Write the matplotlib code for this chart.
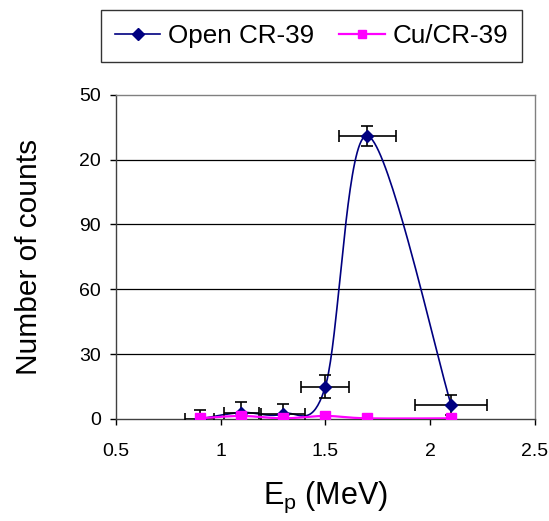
import numpy as np
import matplotlib
matplotlib.use("Agg")
import matplotlib.pyplot as plt

plt.rcParams['font.family'] = ['Liberation Sans', 'DejaVu Sans']

# proton energy (MeV) and counts
energy = [0.9, 1.1, 1.3, 1.5, 1.7, 2.1]
open_counts = [0.0, 3.0, 2.4, 15.0, 131.0, 6.5]
open_xerr = [0.07, 0.085, 0.105, 0.115, 0.135, 0.17]
open_yerr = [4.0, 4.7, 4.6, 5.2, 4.6, 4.6]
cu_counts = [0.3, 1.4, 0.3, 1.4, 0.3, 0.3]

yticks = [0, 30, 60, 90, 120, 150]
ytick_labels = ['0', '30', '60', '90', '20', '50']   # leading "1" is cut off in the original
xticks = [0.5, 1, 1.5, 2, 2.5]
xtick_labels = ['0.5', '1', '1.5', '2', '2.5']


def smooth(x, y, n=40):
    # excel-style smoothed line: bezier segments with catmull-rom control points
    p = np.column_stack([x, y]).astype(float)
    pts = np.vstack([p[0], p, p[-1]])
    out = []
    t = np.linspace(0, 1, n)[:, None]
    for i in range(1, len(pts) - 2):
        p0, p1, p2, p3 = pts[i - 1], pts[i], pts[i + 1], pts[i + 2]
        c1 = p1 + (p2 - p0) / 6
        c2 = p2 - (p3 - p1) / 6
        seg = ((1 - t) ** 3) * p1 + 3 * ((1 - t) ** 2) * t * c1 + 3 * (1 - t) * t ** 2 * c2 + t ** 3 * p2
        out.append(seg)
    out = np.vstack(out)
    return out[:, 0], out[:, 1]


fig = plt.figure(figsize=(5.49, 5.21), dpi=100)
ax = fig.add_axes([0.2107, 0.1958, 0.9745 - 0.2107, 0.8183 - 0.1958])

navy = '#000080'
pink = '#ff00ff'

sx, sy = smooth(energy, open_counts)
ax.plot(sx, sy, color=navy, lw=1.2, zorder=3)
ax.errorbar(energy, open_counts, xerr=open_xerr, yerr=open_yerr, fmt='none',
            ecolor='black', elinewidth=1.2, capsize=4.3, capthick=1.2, zorder=4)
ax.plot(energy, open_counts, ls='none', marker='D', ms=6.2, color=navy, zorder=5)

cx, cy = smooth(energy, cu_counts)
ax.plot(cx, cy, color=pink, lw=1.6, zorder=6)
ax.plot(energy, cu_counts, ls='none', marker='s', ms=7.8, color=pink, zorder=7)

# legend proxies
h1, = ax.plot([], [], color=navy, lw=1.2, marker='D', ms=5.8, label='Open CR-39')
h2, = ax.plot([], [], color=pink, lw=1.6, marker='s', ms=6, label='Cu/CR-39')
leg = fig.legend(handles=[h1, h2], loc='center', bbox_to_anchor=(0.5674, 0.931),
                 ncol=2, fontsize=18.7, frameon=True, fancybox=False, shadow=False,
                 handlelength=1.75, handletextpad=0.3, columnspacing=0.95,
                 borderpad=0.55, borderaxespad=0)
leg.get_frame().set_edgecolor('black')
leg.get_frame().set_linewidth(1.0)

ax.set_xlim(0.5, 2.5)
ax.set_ylim(0, 150)
ax.set_xticks(xticks)
ax.set_xticklabels(xtick_labels, fontsize=14)
ax.set_yticks(yticks)
ax.set_yticklabels(ytick_labels, fontsize=14)
ax.tick_params(axis='both', direction='out', length=4.5, width=1, pad=6)
ax.tick_params(axis='x', pad=13)

for v in yticks[1:-1]:
    ax.axhline(v, color='black', lw=0.9, zorder=1)

ax.spines['top'].set_color('#808080')
ax.spines['right'].set_color('#808080')
ax.spines['left'].set_color('#404040')
ax.spines['bottom'].set_color('#404040')
for s in ax.spines.values():
    s.set_linewidth(1.0)

ax.set_ylabel('Number of counts', fontsize=21.5, labelpad=26)
ax.set_xlabel(r'E$_\mathregular{p}$ (MeV)', fontsize=22, labelpad=14)

fig.savefig('out.png', dpi=100)
